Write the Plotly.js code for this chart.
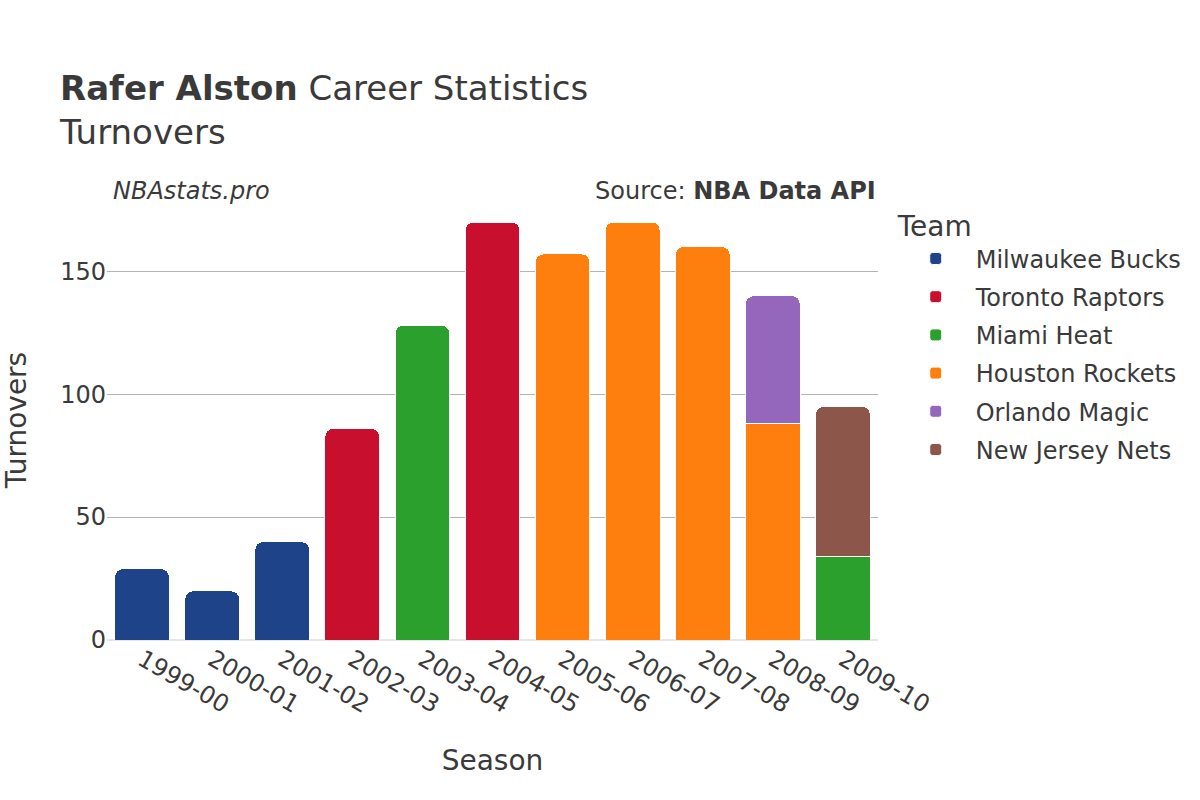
<!DOCTYPE html>
<html>
<head>
<meta charset="utf-8">
<script src="https://cdn.plot.ly/plotly-3.0.1.min.js"></script>
<style>body{margin:0;}#chart{width:1200px;height:800px;}</style>
</head>
<body>
<div id="chart"></div>
<script>
'use strict'
// values
let seasons = ['1999-00','2000-01','2001-02','2002-03','2003-04','2004-05','2005-06','2006-07','2007-08','2008-09','2009-10'];
let teams = ['Milwaukee Bucks','Toronto Raptors','Miami Heat','Houston Rockets','Orlando Magic','New Jersey Nets'];
let colors = ['#1f4388','#c8102e','#2ca02c','#ff7f0e','#9467bd','#8c564b'];
let bucks   = [29, 20, 40, null, null, null, null, null, null, null, null];
let raptors = [null, null, null, 86, null, 170, null, null, null, null, null];
let heat    = [null, null, null, null, 128, null, null, null, null, null, 34];
let rockets = [null, null, null, null, null, null, 157, 170, 160, 88, null];
let magic   = [null, null, null, null, null, null, null, null, null, 52, null];
let nets    = [null, null, null, null, null, null, null, null, null, null, 61];
let series = [bucks, raptors, heat, rockets, magic, nets];

let traces = [];
for (let i = 0; i < teams.length; i++) {
  traces.push({
    type: 'bar',
    name: teams[i],
    legendgroup: teams[i],
    x: seasons,
    y: series[i],
    marker: {color: colors[i], line: {color: '#ffffff', width: 1}}
  });
}

let layout = {
  width: 1200,
  height: 800,
  barmode: 'stack',
  bargap: 0.22,
  barcornerradius: 8,
  font: {family: 'DejaVu Sans, sans-serif', color: '#3a3a3a', size: 24},
  paper_bgcolor: '#ffffff',
  plot_bgcolor: '#ffffff',
  margin: {l: 107, r: 322, t: 200, b: 160},
  title: {
    text: '<b>Rafer Alston</b> Career Statistics<br>Turnovers',
    x: 0.05, xanchor: 'left', y: 0.875, yanchor: 'top',
    font: {size: 34, color: '#3a3a3a'}
  },
  xaxis: {
    type: 'category',
    title: {text: 'Season', font: {size: 28}, standoff: 32},
    tickangle: 30,
    tickfont: {size: 24},
    showgrid: false
  },
  yaxis: {
    title: {text: 'Turnovers', font: {size: 28}, standoff: 25},
    tickfont: {size: 24},
    tickvals: [0, 50, 100, 150],
    gridcolor: '#b3b3b3',
    zerolinecolor: '#e3e6eb',
    zerolinewidth: 2
  },
  legend: {
    title: {text: 'Team', font: {size: 28}},
    font: {size: 24},
    x: 1.023, y: 1.0, xanchor: 'left', yanchor: 'top',
    traceorder: 'grouped',
    tracegroupgap: 4,
    itemwidth: 70
  },
  annotations: [
    {text: '<i>NBAstats.pro</i>', xref: 'paper', yref: 'paper', x: 0.005, y: 1.02,
     xanchor: 'left', yanchor: 'middle', showarrow: false, font: {size: 24}},
    {text: 'Source: <b>NBA Data API</b>', xref: 'paper', yref: 'paper', x: 1.0, y: 1.02,
     xanchor: 'right', yanchor: 'middle', showarrow: false, font: {size: 24}}
  ]
};

Plotly.newPlot(document.getElementById('chart'), traces, layout, {displayModeBar: false});
</script>
</body>
</html>
